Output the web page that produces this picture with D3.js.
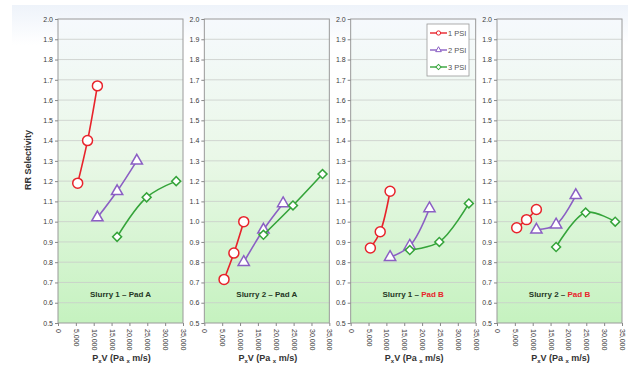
<!DOCTYPE html>
<html>
<head>
<meta charset="utf-8">
<script src="https://cdn.jsdelivr.net/npm/d3@7"></script>
<style>
  body { margin: 0; background: #fff; }
  svg { display: block; font-family: "Liberation Sans", Arial, sans-serif; }
</style>
</head>
<body>
<div id="chart"></div>
<script>
const W = 628, H = 371;

// P x V values for each pressure (Pa x m/s)
const psi1X = [5516, 8274, 11032];
const psi2X = [11032, 16548, 22064];
const psi3X = [16548, 24821, 33095];

// RR selectivity per panel
const psi1Y = [[1.19, 1.40, 1.67], [0.715, 0.845, 1.0], [0.87, 0.95, 1.15], [0.97, 1.01, 1.06]];
const psi2Y = [[1.02, 1.15, 1.30], [0.80, 0.96, 1.09], [0.825, 0.88, 1.065], [0.96, 0.985, 1.13]];
const psi3Y = [[0.925, 1.12, 1.20], [0.935, 1.08, 1.235], [0.86, 0.90, 1.09], [0.875, 1.045, 1.0]];

const slurries = ["Slurry 1", "Slurry 2", "Slurry 1", "Slurry 2"];
const pads = ["Pad A", "Pad A", "Pad B", "Pad B"];
const seriesNames = ["1 PSI", "2 PSI", "3 PSI"];
const xTicks = [0, 5000, 10000, 15000, 20000, 25000, 30000, 35000];
const yTicks = [0.5, 0.6, 0.7, 0.8, 0.9, 1.0, 1.1, 1.2, 1.3, 1.4, 1.5, 1.6, 1.7, 1.8, 1.9, 2.0];

const colors = ["#e8232b", "#8b5fc4", "#35a43a"];
const symbols = [d3.symbolCircle, d3.symbolTriangle, d3.symbolSquare];
const symSize = [78, 55, 40];
const symRot = [0, 0, 45];

const plotTop = 19, plotBottom = 323, pw = 125;
const panelX = d3.scaleLinear().domain([0, 3]).range([58, 497]);

const y = d3.scaleLinear().domain([0.5, 2.0]).range([plotBottom, plotTop]);
const x = d3.scaleLinear().domain([0, 35000]).range([0, pw]);

const svg = d3.select("#chart").append("svg").attr("width", W).attr("height", H);
const defs = svg.append("defs");

const bg = defs.append("linearGradient").attr("id", "bg").attr("x1", 0).attr("x2", 0).attr("y1", 0).attr("y2", 1);
bg.append("stop").attr("offset", "0%").attr("stop-color", "#eef3fa");
bg.append("stop").attr("offset", "100%").attr("stop-color", "#ffffff");

const pg = defs.append("linearGradient").attr("id", "pg").attr("x1", 0).attr("x2", 0).attr("y1", 0).attr("y2", 1);
pg.append("stop").attr("offset", "0%").attr("stop-color", "#f6f9fd");
pg.append("stop").attr("offset", "45%").attr("stop-color", "#eaf8e8");
pg.append("stop").attr("offset", "100%").attr("stop-color", "#c5f2bf");

svg.append("rect").attr("x", 12).attr("y", 5).attr("width", W - 12).attr("height", 40).attr("fill", "url(#bg)");

// y title
svg.append("text")
  .attr("transform", "translate(31,160) rotate(-90)")
  .attr("text-anchor", "middle")
  .attr("font-size", 9).attr("font-weight", "bold").attr("fill", "#333")
  .text("RR Selectivity");

const line = d3.line().x(d => x(d[0])).y(d => y(d[1])).curve(d3.curveCatmullRom);

for (let p = 0; p < 4; p++) {
  const left = panelX(p);
  const g = svg.append("g").attr("transform", "translate(" + left + ",0)");

  g.append("rect").attr("x", 0).attr("y", plotTop).attr("width", pw).attr("height", plotBottom - plotTop)
    .attr("fill", "url(#pg)");

  // grid
  g.selectAll("line.grid").data(yTicks.slice(1, -1)).enter().append("line")
    .attr("class", "grid")
    .attr("x1", 0).attr("x2", pw)
    .attr("y1", d => y(d)).attr("y2", d => y(d))
    .attr("stroke", "#c9cdc9").attr("stroke-width", 0.8);

  g.append("rect").attr("x", 0).attr("y", plotTop).attr("width", pw).attr("height", plotBottom - plotTop)
    .attr("fill", "none").attr("stroke", "#9a9a9a").attr("stroke-width", 1);

  // y axis
  const ya = g.append("g").call(d3.axisLeft(y).tickValues(yTicks).tickFormat(d3.format(".1f")).tickSize(3));
  ya.select(".domain").remove();
  ya.selectAll("line").attr("stroke", "#888");
  ya.selectAll("text").attr("font-size", 7).attr("fill", "#3a3a3a").attr("x", -5)
    .attr("font-family", "Liberation Sans, Arial, sans-serif");

  // x axis
  const xa = g.append("g").attr("transform", "translate(0," + plotBottom + ")")
    .call(d3.axisBottom(x).tickValues(xTicks).tickFormat(d3.format(",")).tickSize(3));
  xa.select(".domain").remove();
  xa.selectAll("line").attr("stroke", "#888");
  xa.selectAll("text")
    .attr("font-size", 7).attr("fill", "#3a3a3a")
    .attr("font-family", "Liberation Sans, Arial, sans-serif")
    .attr("text-anchor", "start")
    .attr("dy", "0.35em")
    .attr("transform", "translate(0,2) rotate(90)")
    .attr("x", 4).attr("y", 0);

  // x title
  const xt = g.append("text").attr("x", pw / 2 + 1).attr("y", 361)
    .attr("text-anchor", "middle").attr("font-size", 9).attr("font-weight", "bold").attr("fill", "#333");
  xt.append("tspan").text("P");
  xt.append("tspan").attr("font-size", 6).attr("dy", 2).text("x");
  xt.append("tspan").attr("dy", -2).text("V (Pa ");
  xt.append("tspan").attr("font-size", 6).attr("dy", 2).text("x");
  xt.append("tspan").attr("dy", -2).text(" m/s)");

  // panel label
  const lt = g.append("text").attr("x", pw / 2).attr("y", 297)
    .attr("text-anchor", "middle").attr("font-size", 8).attr("font-weight", "bold").attr("fill", "#243624");
  lt.append("tspan").text(slurries[p] + " – ");
  lt.append("tspan").attr("fill", p >= 2 ? "#e8232b" : "#243624").text(pads[p]);

  const series = [
    d3.zip(psi1X, psi1Y[p]),
    d3.zip(psi2X, psi2Y[p]),
    d3.zip(psi3X, psi3Y[p])
  ];

  series.forEach((pts, s) => {
    g.append("path").datum(pts).attr("d", line)
      .attr("fill", "none").attr("stroke", colors[s]).attr("stroke-width", 1.6);
    g.selectAll("path.m" + s).data(pts).enter().append("path")
      .attr("class", "m" + s)
      .attr("transform", d => "translate(" + x(d[0]) + "," + y(d[1]) + ") rotate(" + symRot[s] + ")")
      .attr("d", d3.symbol().type(symbols[s]).size(symSize[s]))
      .attr("fill", "#fff").attr("stroke", colors[s]).attr("stroke-width", 1.5);
  });

  // legend in third panel
  if (p === 2) {
    const lg = g.append("g").attr("transform", "translate(" + (427 - left) + ",24)");
    lg.append("rect").attr("width", 42).attr("height", 52)
      .attr("fill", "#fff").attr("stroke", "#999").attr("stroke-width", 0.8);
    seriesNames.forEach((n, s) => {
      const yy = 9 + s * 17;
      lg.append("line").attr("x1", 3).attr("x2", 20).attr("y1", yy).attr("y2", yy)
        .attr("stroke", colors[s]).attr("stroke-width", 1.4);
      lg.append("path").attr("transform", "translate(11.5," + yy + ") rotate(" + symRot[s] + ")")
        .attr("d", d3.symbol().type(symbols[s]).size(14))
        .attr("fill", "#fff").attr("stroke", colors[s]).attr("stroke-width", 1);
      lg.append("text").attr("x", 21).attr("y", yy).attr("dy", "0.35em")
        .attr("font-size", 7.5).attr("fill", "#555").text(n);
    });
  }
}
</script>
</body>
</html>
